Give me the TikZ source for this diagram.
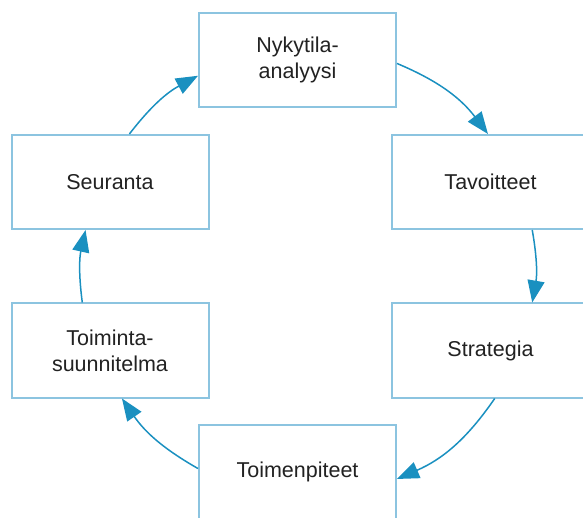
\documentclass[tikz,border=0pt]{standalone}
\usepackage{fontspec}
\setmainfont{Liberation Sans}
\usetikzlibrary{arrows.meta}
\definecolor{boxline}{HTML}{8CC4E0}
\definecolor{flow}{HTML}{1A90C0}
\definecolor{ink}{HTML}{222222}
\begin{document}
\begin{tikzpicture}[x=1pt,y=-1pt,
  stage/.style={draw=boxline, line width=2pt, fill=white,
    minimum width=197pt, minimum height=94pt, inner sep=0pt,
    align=center, text=ink, font=\fontsize{21.5}{26}\selectfont},
  cycle/.style={draw=flow, line width=1.5pt,
    -{Triangle[length=22pt,width=17pt]}}]
\useasboundingbox (0,0) rectangle (583,518);
\clip (0,0) rectangle (583,518);

\node[stage] (nyk) at (297.5,60)  {Nykytila-\\analyysi};
\node[stage] (tav) at (490.5,182) {Tavoitteet};
\node[stage] (str) at (490.5,350.5) {Strategia};
\node[stage] (toi) at (297.5,472) {Toimenpiteet};
\node[stage] (tsu) at (110,350.5) {Toiminta-\\suunnitelma};
\node[stage] (seu) at (110,182)   {Seuranta};

\draw[cycle] (nyk.-2)   to[bend left=15] (tav.93);
\draw[cycle] (tav.-49)  to[bend left=10] (str.49);
\draw[cycle] (str.-85)  to[bend left=16] (toi.-4);
\draw[cycle] (toi.178)  to[bend left=13] (tsu.-76);
\draw[cycle] (tsu.120)  to[bend left=10] (seu.-117);
\draw[cycle] (seu.68)   to[bend left=12] (nyk.189);
\end{tikzpicture}
\end{document}
